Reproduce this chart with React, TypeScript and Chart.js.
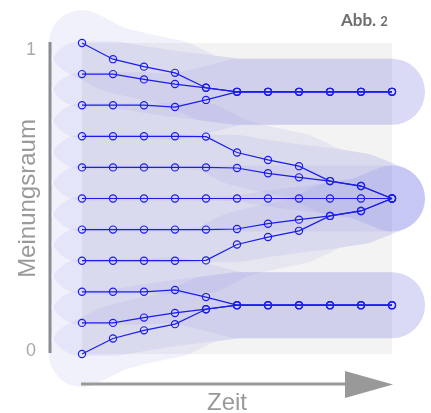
import React, { useEffect, useRef } from "react";
import { Chart, registerables } from "chart.js";

Chart.register(...registerables);

// Time steps (x axis)
const timeSteps = [0, 1, 2, 3, 4, 5, 6, 7, 8, 9, 10];

// Opinion trajectories of the 11 agents (0 = bottom, 1 = top of the opinion space)
const agent100 = [1.0, 0.948, 0.924, 0.904, 0.856, 0.843, 0.843, 0.843, 0.843, 0.843, 0.843];
const agent090 = [0.9, 0.9, 0.883, 0.868, 0.856, 0.843, 0.843, 0.843, 0.843, 0.843, 0.843];
const agent080 = [0.8, 0.8, 0.8, 0.794, 0.817, 0.843, 0.843, 0.843, 0.843, 0.843, 0.843];
const agent070 = [0.7, 0.7, 0.7, 0.7, 0.699, 0.648, 0.624, 0.604, 0.556, 0.54, 0.5];
const agent060 = [0.6, 0.6, 0.6, 0.6, 0.6, 0.598, 0.581, 0.568, 0.556, 0.54, 0.5];
const agent050 = [0.5, 0.5, 0.5, 0.5, 0.5, 0.5, 0.5, 0.5, 0.5, 0.5, 0.5];
const agent040 = [0.4, 0.4, 0.4, 0.4, 0.4, 0.402, 0.419, 0.432, 0.444, 0.46, 0.5];
const agent030 = [0.3, 0.3, 0.3, 0.3, 0.301, 0.352, 0.376, 0.396, 0.444, 0.46, 0.5];
const agent020 = [0.2, 0.2, 0.2, 0.206, 0.183, 0.157, 0.157, 0.157, 0.157, 0.157, 0.157];
const agent010 = [0.1, 0.1, 0.117, 0.132, 0.144, 0.157, 0.157, 0.157, 0.157, 0.157, 0.157];
const agent000 = [0.0, 0.05, 0.076, 0.096, 0.144, 0.157, 0.157, 0.157, 0.157, 0.157, 0.157];

const agents = [
  agent100, agent090, agent080, agent070, agent060, agent050,
  agent040, agent030, agent020, agent010, agent000,
];

// Text
const yTickValues = [0, 1];
const yTickLabels = ["0", "1"];
const yTitle = "Meinungsraum";
const xTitle = "Zeit";
const figLabel = "Abb.";
const figNumber = "2";

export default function App() {
  const canvasRef = useRef<HTMLCanvasElement | null>(null);

  useEffect(() => {
    document.body.style.margin = "0";
    const canvas = canvasRef.current;
    if (!canvas) return;

    const blobColor = "rgba(130,130,225,0.11)";
    const lineColor = "rgb(28,28,235)";

    const toPoints = (vals: number[]) => vals.map((v, i) => ({ x: timeSteps[i], y: v }));

    const blobSets = agents.map((a) => ({
      data: toPoints(a),
      borderColor: blobColor,
      borderWidth: 66,
      borderCapStyle: "round" as const,
      borderJoinStyle: "round" as const,
      pointRadius: 0,
      pointHoverRadius: 0,
      fill: false,
      tension: 0,
      clip: false as const,
      order: 2,
    }));

    const lineSets = agents.map((a) => ({
      data: toPoints(a),
      borderColor: lineColor,
      borderWidth: 1.2,
      pointRadius: 3.6,
      pointBorderWidth: 1.2,
      pointBorderColor: lineColor,
      pointBackgroundColor: "rgba(0,0,0,0)",
      fill: false,
      tension: 0,
      clip: false as const,
      order: 1,
    }));

    const decor = {
      id: "decor",
      beforeDatasetsDraw(chart: any) {
        const { ctx, chartArea } = chart;
        ctx.save();
        ctx.fillStyle = "#f3f3f3";
        ctx.fillRect(chartArea.left, chartArea.top, chartArea.right - chartArea.left, chartArea.bottom - chartArea.top);
        ctx.restore();
      },
      afterDatasetsDraw(chart: any) {
        const { ctx, chartArea } = chart;
        const ys = chart.scales.y;
        const xs = chart.scales.x;
        const yTop = ys.getPixelForValue(1);
        const yBot = ys.getPixelForValue(0);
        const yMid = ys.getPixelForValue(0.5);
        ctx.save();

        // Y axis line
        const axX = chartArea.left - 32;
        ctx.strokeStyle = "#8b8b92";
        ctx.lineWidth = 3;
        ctx.beginPath();
        ctx.moveTo(axX, yTop - 1);
        ctx.lineTo(axX, yBot - 1);
        ctx.stroke();

        // Y tick labels
        ctx.fillStyle = "#aaaaaa";
        ctx.font = "18px 'Liberation Sans', Arial, sans-serif";
        ctx.textAlign = "center";
        ctx.textBaseline = "middle";
        yTickValues.forEach((v, i) => {
          const py = ys.getPixelForValue(v) + (v === 1 ? 7 : -3);
          ctx.fillText(yTickLabels[i], axX - 19, py);
        });

        // Y title
        ctx.save();
        ctx.translate(axX - 15, yMid);
        ctx.rotate(-Math.PI / 2);
        ctx.fillStyle = "#9a9a9a";
        ctx.font = "24px 'Liberation Sans', Arial, sans-serif";
        ctx.textAlign = "center";
        ctx.textBaseline = "alphabetic";
        ctx.fillText(yTitle, 0, 0);
        ctx.restore();

        // X axis arrow
        const arrowY = yBot + 30;
        const x0 = xs.getPixelForValue(0) - 1;
        const xEnd = xs.getPixelForValue(10) + 1;
        ctx.strokeStyle = "#9a9a9a";
        ctx.lineWidth = 3;
        ctx.beginPath();
        ctx.moveTo(x0, arrowY);
        ctx.lineTo(xEnd - 46, arrowY);
        ctx.stroke();
        ctx.fillStyle = "#999999";
        ctx.beginPath();
        ctx.moveTo(xEnd - 48, arrowY - 13);
        ctx.lineTo(xEnd, arrowY + 0.5);
        ctx.lineTo(xEnd - 48, arrowY + 14);
        ctx.closePath();
        ctx.fill();

        // X title
        ctx.fillStyle = "#9a9a9a";
        ctx.font = "24px 'Liberation Sans', Arial, sans-serif";
        ctx.textAlign = "center";
        ctx.textBaseline = "alphabetic";
        ctx.fillText(xTitle, (chartArea.left + chartArea.right) / 2 - 10, arrowY + 26);

        // Figure label
        ctx.fillStyle = "#6e6e6e";
        ctx.textAlign = "left";
        ctx.font = "bold 17px Lato, 'Open Sans', sans-serif";
        const lx = 341;
        ctx.fillText(figLabel, lx, 26);
        const w = ctx.measureText(figLabel + " ").width;
        ctx.font = "bold 13px Lato, 'Open Sans', sans-serif";
        ctx.fillText(figNumber, lx + w, 26);

        ctx.restore();
      },
    };

    const chart = new Chart(canvas, {
      type: "line",
      data: { datasets: [...lineSets, ...blobSets] as any },
      options: {
        animation: false,
        responsive: false,
        events: [],
        layout: { padding: { left: 82, right: 39, top: 43, bottom: 59 } },
        plugins: { legend: { display: false }, tooltip: { enabled: false } },
        scales: {
          x: { type: "linear", min: 0, max: 10, display: false },
          y: { type: "linear", min: 0, max: 1, display: false },
        },
      },
      plugins: [decor],
    });

    return () => chart.destroy();
  }, []);

  return <canvas ref={canvasRef} width={431} height={413} style={{ display: "block" }} />;
}
